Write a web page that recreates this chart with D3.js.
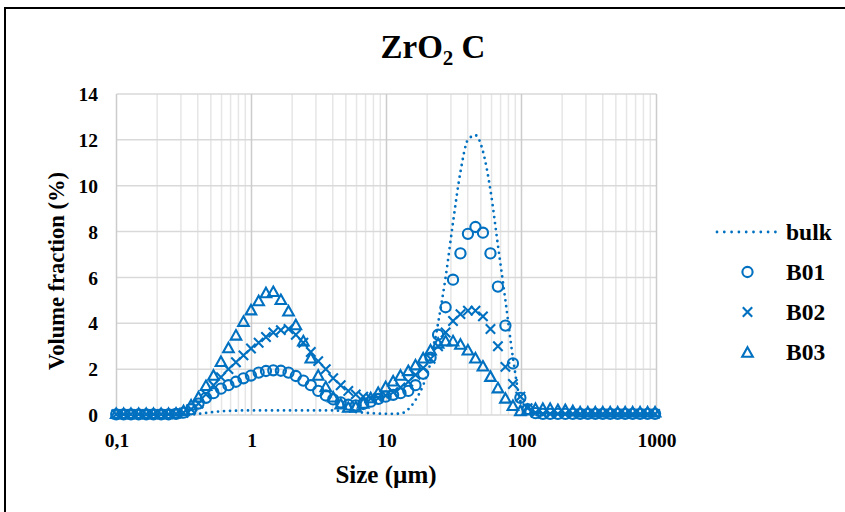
<!DOCTYPE html>
<html><head><meta charset="utf-8">
<script src="https://cdn.jsdelivr.net/npm/d3@7"></script>
<style>
body{margin:0;background:#fff}
svg{display:block}
text{font-family:"Liberation Serif","Times New Roman",serif;font-weight:bold;fill:#000}
</style>
</head><body>
<svg id="chart" width="845" height="512"></svg>
<script>
// ---- data ----
const sizes = [
  0.0995, 0.113, 0.128, 0.146, 0.166, 0.188, 0.214, 0.243, 0.276, 0.314,
  0.357, 0.405, 0.46, 0.523, 0.594, 0.675, 0.767, 0.872, 0.991, 1.13,
  1.28, 1.45, 1.65, 1.88, 2.13, 2.42, 2.75, 3.12, 3.55, 4.03,
  4.58, 5.21, 5.92, 6.72, 7.64, 8.68, 9.86, 11.2, 12.7, 14.5,
  16.4, 18.7, 21.2, 24.1, 27.4, 31.1, 35.3, 40.1, 45.6, 51.8,
  58.9, 66.9, 76, 86.4, 98.1, 111, 127, 144, 163, 186,
  211, 240, 272, 310, 352, 400, 454, 516, 586, 666,
  756, 859, 976
];
const bulk = [
  0, 0, 0, 0, 0, 0, 0, 0, 0, 0,
  0.02, 0.05, 0.09, 0.13, 0.16, 0.18, 0.19, 0.2, 0.2, 0.2,
  0.2, 0.2, 0.2, 0.2, 0.2, 0.2, 0.2, 0.2, 0.2, 0.2,
  0.18, 0.16, 0.13, 0.1, 0.08, 0.06, 0.05, 0.05, 0.06, 0.25,
  0.65, 1.3, 2.3, 4.0, 6.0, 8.4, 10.6, 12.0, 12.2, 11.5,
  9.8, 7.4, 5.0, 2.5, 0.6, 0.05, 0, 0, 0, 0,
  0, 0, 0, 0, 0, 0, 0, 0, 0, 0,
  0, 0, 0
];
const b01 = [
  0.03, 0.03, 0.03, 0.03, 0.03, 0.03, 0.03, 0.03, 0.05, 0.1,
  0.25, 0.5, 0.75, 0.95, 1.15, 1.3, 1.45, 1.6, 1.72, 1.85,
  1.92, 1.95, 1.93, 1.85, 1.7, 1.5, 1.3, 1.05, 0.85, 0.68,
  0.55, 0.45, 0.42, 0.48, 0.58, 0.7, 0.8, 0.88, 0.95, 1.05,
  1.3, 1.8, 2.5, 3.5, 4.7, 5.9, 7.05, 7.9, 8.2, 7.95,
  7.05, 5.6, 3.9, 2.25, 0.75, 0.25, 0.08, 0.05, 0.05, 0.05,
  0.05, 0.05, 0.05, 0.05, 0.05, 0.05, 0.05, 0.05, 0.05, 0.05,
  0.05, 0.05, 0.05
];
const b02 = [
  0.03, 0.03, 0.03, 0.03, 0.03, 0.03, 0.03, 0.03, 0.05, 0.1,
  0.25, 0.5, 0.9, 1.3, 1.65, 2.0, 2.3, 2.6, 2.9, 3.15,
  3.4, 3.6, 3.7, 3.75, 3.5, 3.15, 2.75, 2.35, 2.0, 1.6,
  1.3, 1.05, 0.9, 0.8, 0.72, 0.74, 0.85, 1.0, 1.2, 1.45,
  1.75, 2.05, 2.45, 3.0, 3.6, 4.1, 4.4, 4.55, 4.55, 4.3,
  3.75, 3.0, 2.1, 1.35, 0.8, 0.3, 0.1, 0.05, 0.05, 0.05,
  0.05, 0.05, 0.05, 0.05, 0.05, 0.05, 0.05, 0.05, 0.05, 0.05,
  0.05, 0.05, 0.05
];
const b03 = [
  0.03, 0.03, 0.03, 0.03, 0.03, 0.03, 0.03, 0.03, 0.05, 0.15,
  0.4, 0.75, 1.25, 1.7, 2.3, 2.9, 3.45, 4.05, 4.55, 4.95,
  5.3, 5.35, 5.0, 4.5, 3.9, 3.2, 2.45, 1.7, 1.2, 0.75,
  0.45, 0.3, 0.32, 0.48, 0.72, 0.95, 1.2, 1.45, 1.7, 1.9,
  2.15, 2.45, 2.8, 3.1, 3.2, 3.2, 3.05, 2.8, 2.45, 2.1,
  1.65, 1.15, 0.7, 0.38, 0.15, 0.2, 0.25, 0.25, 0.25, 0.2,
  0.2, 0.15, 0.1, 0.1, 0.1, 0.1, 0.1, 0.1, 0.1, 0.1,
  0.1, 0.1, 0.1
];
const yTickValues = [0, 2, 4, 6, 8, 10, 12, 14];
const xTickValues = [0.1, 1, 10, 100, 1000];
const xTickLabels = ["0,1", "1", "10", "100", "1000"];
const seriesNames = ["bulk", "B01", "B02", "B03"];
const chartTitle = "ZrO";
const xTitle = "Size (µm)";
const yTitle = "Volume fraction (%)";

// ---- drawing ----
const blue = "#0070C0";
const svg = d3.select("#chart");
const plot = {l: 116.5, r: 656.5, t: 94, b: 415};
const x = d3.scaleLog().domain([0.1, 1000]).range([plot.l, plot.r]);
const y = d3.scaleLinear().domain([0, 14]).range([plot.b, plot.t]);

svg.append("rect").attr("width", 845).attr("height", 512).attr("fill", "#fff");
// outer chart border (only top/left visible in the reference)
svg.append("rect").attr("x", 5).attr("y", 8).attr("width", 1000).attr("height", 1000)
  .attr("fill", "none").attr("stroke", "#000").attr("stroke-width", 2);

// minor vertical grid
const g = svg.append("g");
g.selectAll("line.minor").data(x.ticks().filter(v => !xTickValues.some(t => Math.abs(t - v) / t < 1e-6)))
  .join("line").attr("class", "minor")
  .attr("x1", d => x(d)).attr("x2", d => x(d)).attr("y1", plot.t).attr("y2", plot.b)
  .attr("stroke", "#e6e6e6").attr("stroke-width", 1.5);
// horizontal grid
g.selectAll("line.h").data(yTickValues).join("line").attr("class", "h")
  .attr("x1", plot.l).attr("x2", plot.r).attr("y1", d => y(d)).attr("y2", d => y(d))
  .attr("stroke", "#d9d9d9").attr("stroke-width", 1.5);
// major vertical grid
g.selectAll("line.major").data(xTickValues).join("line").attr("class", "major")
  .attr("x1", d => x(d)).attr("x2", d => x(d)).attr("y1", plot.t).attr("y2", plot.b)
  .attr("stroke", "#cccccc").attr("stroke-width", 1.5);

// axes labels
const yAxis = d3.axisLeft(y).tickValues(yTickValues).tickSize(0).tickPadding(0);
const ya = svg.append("g").attr("transform", `translate(${plot.l - 18.5},0)`).call(yAxis);
ya.select(".domain").remove();
ya.selectAll("text").attr("font-size", 19.5).attr("dy", "0.34em")
  .style("font-family", '"Liberation Serif",serif').style("font-weight", "bold");

const xAxis = d3.axisBottom(x).tickValues(xTickValues).tickSize(0).tickPadding(0)
  .tickFormat((d, i) => xTickLabels[i]);
const xa = svg.append("g").attr("transform", `translate(0,${plot.b + 32})`).call(xAxis);
xa.select(".domain").remove();
xa.selectAll("text").attr("font-size", 19.5).attr("dy", 0)
  .style("font-family", '"Liberation Serif",serif').style("font-weight", "bold");

// titles
const t = svg.append("text").attr("x", 433).attr("y", 58).attr("text-anchor", "middle").attr("font-size", 33);
t.append("tspan").text(chartTitle);
t.append("tspan").attr("font-size", 21).attr("dy", 7).text("2");
t.append("tspan").attr("dy", -7).text(" C");

svg.append("text").attr("x", 386).attr("y", 483).attr("text-anchor", "middle")
  .attr("font-size", 25).text(xTitle);
svg.append("text").attr("transform", "translate(64,271) rotate(-90)")
  .attr("text-anchor", "middle").attr("font-size", 22.5).text(yTitle);

// series
const pts = arr => sizes.map((s, i) => [s, arr[i]]);
const line = d3.line().x(d => x(d[0])).y(d => y(d[1])).curve(d3.curveMonotoneX);
svg.append("path").datum(pts(bulk)).attr("d", line)
  .attr("fill", "none").attr("stroke", blue).attr("stroke-width", 2.8)
  .attr("stroke-linecap", "round").attr("stroke-dasharray", "0 6");

const markerStyle = sel => sel.attr("fill", "none").attr("stroke", blue).attr("stroke-width", 2.1);
const crossPath = "M-4.7,-4.7L4.7,4.7M-4.7,4.7L4.7,-4.7";
const triPath = "M0,-5.8L5.3,3.7L-5.3,3.7Z";

markerStyle(svg.append("g").selectAll("circle").data(pts(b01)).join("circle")
  .attr("cx", d => x(d[0])).attr("cy", d => y(d[1])).attr("r", 5.1));
markerStyle(svg.append("g").selectAll("path").data(pts(b02)).join("path")
  .attr("transform", d => `translate(${x(d[0])},${y(d[1])})`).attr("d", crossPath));
markerStyle(svg.append("g").selectAll("path").data(pts(b03)).join("path")
  .attr("transform", d => `translate(${x(d[0])},${y(d[1])})`).attr("d", triPath));

// legend
const lg = svg.append("g");
const ly = [232, 272, 312, 352];
lg.append("line").attr("x1", 717).attr("x2", 776).attr("y1", ly[0]).attr("y2", ly[0])
  .attr("stroke", blue).attr("stroke-width", 2.8).attr("stroke-linecap", "round").attr("stroke-dasharray", "0 7.3");
markerStyle(lg.append("circle").attr("cx", 747.5).attr("cy", ly[1]).attr("r", 5.1));
markerStyle(lg.append("path").attr("transform", `translate(747.5,${ly[2]})`).attr("d", crossPath));
markerStyle(lg.append("path").attr("transform", `translate(747.5,${ly[3] + 1})`).attr("d", triPath));
lg.selectAll("text").data(seriesNames).join("text")
  .attr("x", 786).attr("y", (d, i) => ly[i] + 8).attr("font-size", 23.5).text(d => d);
</script>
</body></html>
